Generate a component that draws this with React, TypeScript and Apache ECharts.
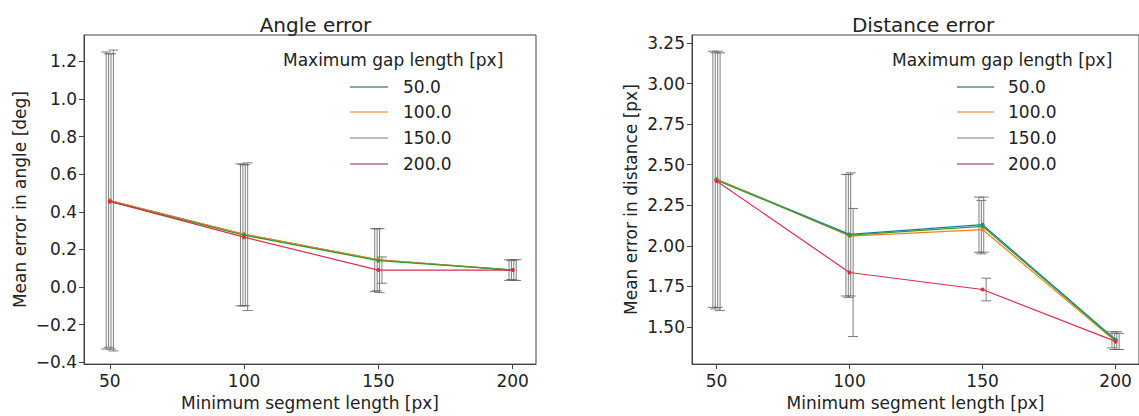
import React, { useEffect, useRef } from "react";
import * as echarts from "echarts";

const segLengths = [50, 100, 150, 200];
const gapNames = ["50.0", "100.0", "150.0", "200.0"];
const seriesColors = ["#1f77b4", "#ff7f0e", "#2ca02c", "#dc2d4a"];
const legendColors = ["#5b8c7e", "#f6a35f", "#a3aaa6", "#b8707e"];

// Angle error (deg)
const angleMean = [
  [0.46, 0.28, 0.145, 0.09],
  [0.46, 0.28, 0.145, 0.09],
  [0.455, 0.275, 0.14, 0.09],
  [0.455, 0.265, 0.09, 0.09],
];
const angleLow = [
  [-0.33, -0.1, -0.025, 0.035],
  [-0.32, -0.1, -0.02, 0.04],
  [-0.33, -0.1, -0.03, 0.035],
  [-0.34, -0.125, 0.02, 0.035],
];
const angleHigh = [
  [1.25, 0.655, 0.31, 0.145],
  [1.24, 0.65, 0.31, 0.14],
  [1.24, 0.65, 0.31, 0.145],
  [1.26, 0.66, 0.16, 0.145],
];
const angleTicks = [-0.4, -0.2, 0.0, 0.2, 0.4, 0.6, 0.8, 1.0, 1.2];

// Distance error (px)
const distMean = [
  [2.41, 2.07, 2.13, 1.42],
  [2.41, 2.06, 2.1, 1.41],
  [2.405, 2.065, 2.12, 1.415],
  [2.4, 1.835, 1.73, 1.41],
];
const distLow = [
  [1.62, 1.69, 1.96, 1.37],
  [1.61, 1.68, 1.95, 1.36],
  [1.62, 1.69, 1.96, 1.36],
  [1.6, 1.44, 1.66, 1.36],
];
const distHigh = [
  [3.2, 2.44, 2.3, 1.47],
  [3.19, 2.44, 2.28, 1.46],
  [3.2, 2.45, 2.3, 1.47],
  [3.19, 2.23, 1.8, 1.46],
];
const distTicks = [1.5, 1.75, 2.0, 2.25, 2.5, 2.75, 3.0, 3.25];

const FONT = "DejaVu Sans";
const TXT = "#222";
const AX = "#444";

function makeSeries(gridIdx: number, mean: number[][], low: number[][], high: number[][]) {
  const out: any[] = [];
  gapNames.forEach((name, i) => {
    const dx = (i - 1.5) * 2.4;
    out.push({
      type: "custom",
      name: name + " err",
      xAxisIndex: gridIdx,
      yAxisIndex: gridIdx,
      data: segLengths.map((x, k) => [x, low[i][k], high[i][k]]),
      encode: { x: 0, y: [1, 2] },
      silent: true,
      z: 1,
      renderItem: (params: any, api: any) => {
        const x = api.value(0);
        const pLo = api.coord([x, api.value(1)]);
        const pHi = api.coord([x, api.value(2)]);
        const cx = pLo[0] + dx;
        const st = { stroke: "#5e5e5e", lineWidth: 1, opacity: 0.8 };
        return {
          type: "group",
          children: [
            { type: "line", shape: { x1: cx, y1: pHi[1], x2: cx, y2: pLo[1] }, style: st },
            { type: "line", shape: { x1: cx - 5, y1: pHi[1], x2: cx + 5, y2: pHi[1] }, style: st },
            { type: "line", shape: { x1: cx - 5, y1: pLo[1], x2: cx + 5, y2: pLo[1] }, style: st },
          ],
        };
      },
    });
  });
  gapNames.forEach((name, i) => {
    out.push({
      type: "line",
      name,
      xAxisIndex: gridIdx,
      yAxisIndex: gridIdx,
      data: segLengths.map((x, k) => [x, mean[i][k]]),
      symbol: "circle",
      symbolSize: 4,
      showSymbol: true,
      lineStyle: { color: seriesColors[i], width: 1.2 },
      itemStyle: { color: seriesColors[i] },
      z: 3,
    });
  });
  return out;
}

function legendGraphic(titleX: number, lineX1: number, lineX2: number, textX: number) {
  const rows = [87, 112, 138, 164];
  const els: any[] = [
    {
      type: "text",
      left: titleX,
      top: 51,
      style: { text: "Maximum gap length [px]", font: `17px "${FONT}"`, fill: TXT },
    },
  ];
  gapNames.forEach((n, i) => {
    els.push({
      type: "line",
      shape: { x1: lineX1, y1: rows[i], x2: lineX2, y2: rows[i] },
      style: { stroke: legendColors[i], lineWidth: 1.5 },
    });
    els.push({
      type: "text",
      x: textX,
      y: rows[i],
      style: { text: n, font: `17px "${FONT}"`, fill: TXT, verticalAlign: "middle" },
    });
  });
  return els;
}

export default function App() {
  const ref = useRef<HTMLDivElement>(null);
  useEffect(() => {
    if (!ref.current) return;
    const chart = echarts.init(ref.current, undefined, { renderer: "svg" });
    const xAxisCommon = (gi: number, min: number, max: number) => ({
      type: "value",
      gridIndex: gi,
      min,
      max,
      name: "Minimum segment length [px]",
      nameLocation: "middle",
      nameGap: 29,
      nameTextStyle: { fontFamily: FONT, fontSize: 17, color: TXT },
      axisLine: { show: true, onZero: false, lineStyle: { color: AX } },
      axisTick: { show: true, customValues: segLengths, length: 5, lineStyle: { color: AX } },
      axisLabel: {
        customValues: segLengths,
        fontFamily: FONT,
        fontSize: 17,
        color: TXT,
        margin: 8,
        formatter: (v: number) => String(v),
      },
      splitLine: { show: false },
    });
    const option: any = {
      animation: false,
      backgroundColor: "#ffffff",
      title: [
        {
          text: "Angle error",
          left: 310.5,
          top: 10,
          textAlign: "center",
          textStyle: { fontFamily: FONT, fontSize: 20, fontWeight: "normal", color: TXT },
        },
        {
          text: "Distance error",
          left: 918,
          top: 10,
          textAlign: "center",
          textStyle: { fontFamily: FONT, fontSize: 20, fontWeight: "normal", color: TXT },
        },
      ],
      grid: [
        { left: 84, top: 35, width: 452, height: 336, show: true, borderColor: AX, borderWidth: 1, backgroundColor: "transparent" },
        { left: 692, top: 35, width: 461, height: 336, show: true, borderColor: AX, borderWidth: 1, backgroundColor: "transparent" },
      ],
      xAxis: [xAxisCommon(0, 40.4, 208.7), xAxisCommon(1, 40.8, 208.8)],
      yAxis: [
        {
          type: "value",
          gridIndex: 0,
          min: -0.41,
          max: 1.34,
          name: "Mean error in angle [deg]",
          nameLocation: "middle",
          nameRotate: 90,
          nameGap: 56,
          nameTextStyle: { fontFamily: FONT, fontSize: 17, color: TXT },
          axisLine: { show: true, onZero: false, lineStyle: { color: AX } },
          axisTick: { show: true, customValues: angleTicks, length: 5, lineStyle: { color: AX } },
          axisLabel: {
            customValues: angleTicks,
            fontFamily: FONT,
            fontSize: 17,
            color: TXT,
            margin: 7,
            formatter: (v: number) => v.toFixed(1).replace("-", "\u2212"),
          },
          splitLine: { show: false },
        },
        {
          type: "value",
          gridIndex: 1,
          min: 1.27,
          max: 3.3,
          name: "Mean error in distance [px]",
          nameLocation: "middle",
          nameRotate: 90,
          nameGap: 53,
          nameTextStyle: { fontFamily: FONT, fontSize: 17, color: TXT },
          axisLine: { show: true, onZero: false, lineStyle: { color: AX } },
          axisTick: { show: true, customValues: distTicks, length: 5, lineStyle: { color: AX } },
          axisLabel: {
            customValues: distTicks,
            fontFamily: FONT,
            fontSize: 17,
            color: TXT,
            margin: 7,
            formatter: (v: number) => v.toFixed(2),
          },
          splitLine: { show: false },
        },
      ],
      graphic: [...legendGraphic(283, 350, 388, 403), ...legendGraphic(892, 957, 994, 1008)],
      series: [...makeSeries(0, angleMean, angleLow, angleHigh), ...makeSeries(1, distMean, distLow, distHigh)],
    };
    chart.setOption(option);
    return () => chart.dispose();
  }, []);
  return (
    <div
      ref={ref}
      style={{ position: "fixed", left: 0, top: 0, width: 1139, height: 416, background: "#fff" }}
    />
  );
}
